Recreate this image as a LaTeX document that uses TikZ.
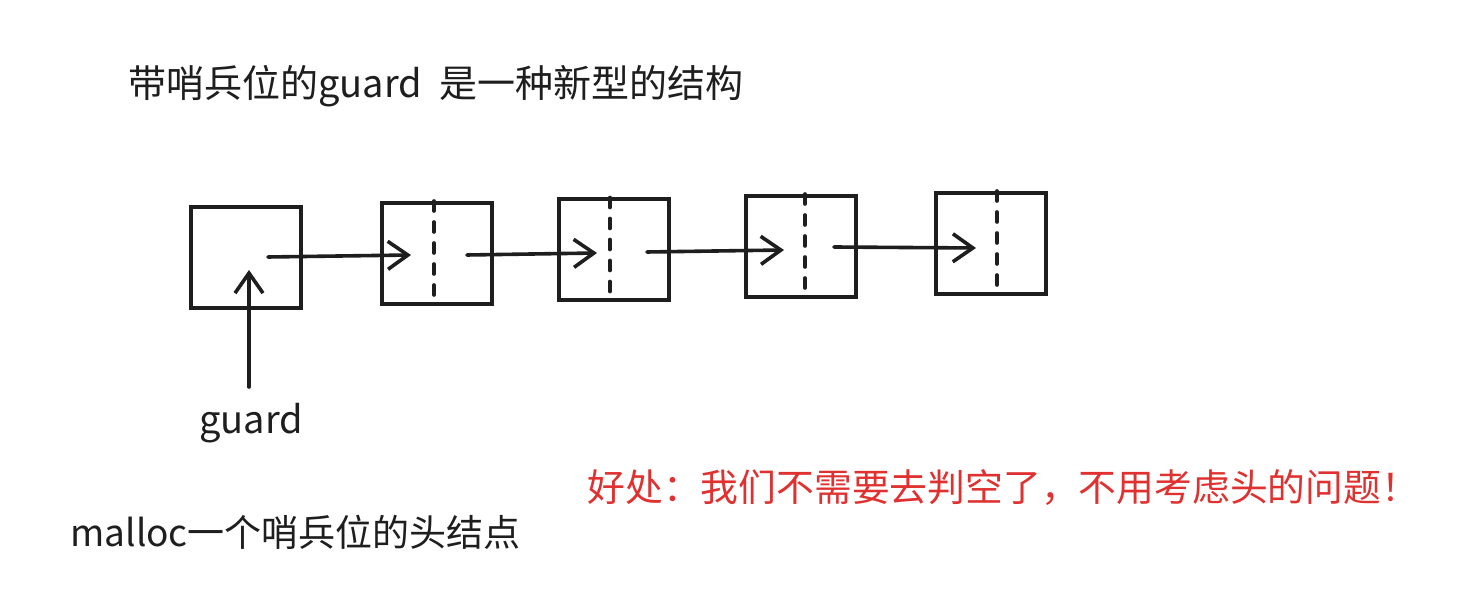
\documentclass[tikz,border=0pt]{standalone}
\usepackage{fontspec}
\setmainfont{Noto Sans CJK SC}
\usetikzlibrary{arrows.meta}
\definecolor{ink}{HTML}{1E1E1E}
\definecolor{redtxt}{HTML}{E03131}
\begin{document}
\begin{tikzpicture}[x=0.5pt,y=-0.5pt,
  nodebox/.style={draw=ink,line width=2pt,minimum width=55pt,minimum height=50.5pt,inner sep=0pt},
  link/.style={draw=ink,line width=1.8pt,line cap=round,-{Straight Barb[length=10pt,width=14pt,line width=1.8pt]}},
  sepline/.style={draw=ink,line width=1.8pt,line cap=round,dash pattern=on 5pt off 5.5pt},
  txt/.style={inner sep=0pt,text=ink}]
\fill[white] (0,0) rectangle (1473,603);
\useasboundingbox (0,0) rectangle (1473,603);

\node[txt,anchor=west,font=\fontsize{19pt}{23pt}\selectfont] (title) at (128,86) {带哨兵位的guard\hspace{0.45em}是一种新型的结构};

\node[nodebox] (b1) at (246,257.5) {};
\node[nodebox] (b2) at (436.5,253.5) {};
\node[nodebox] (b3) at (613.5,250) {};
\node[nodebox] (b4) at (800.5,246.5) {};
\node[nodebox] (b5) at (990.5,243.5) {};

\draw[sepline] (b2.north -| 434,0) -- (434,298);
\draw[sepline] (b3.north -| 610,0) -- (610,295);
\draw[sepline] (b4.north -| 805,0) -- (805,291);
\draw[sepline] (b5.north -| 997,0) -- (997,288);

\coordinate (s1) at (268,257);
\coordinate (e1) at (411,255);
\coordinate (s2) at (467,255);
\coordinate (e2) at (597,253);
\coordinate (s3) at (647,252);
\coordinate (e3) at (784,250);
\coordinate (s4) at (834,247);
\coordinate (e4) at (976,248);
\draw[link] (s1) -- (e1);
\draw[link] (s2) -- (e2);
\draw[link] (s3) -- (e3);
\draw[link] (s4) -- (e4);

\node[txt,font=\fontsize{19pt}{23pt}\selectfont] (guard) at (251,423) {guard};
\coordinate (gs) at (249,387);
\coordinate (ge) at (249,270);
\draw[link] (gs) -- (ge);

\node[txt,anchor=west,font=\fontsize{18.5pt}{22pt}\selectfont] (malloc) at (70,532) {malloc一个哨兵位的头结点};

\node[txt,anchor=west,text=redtxt,font=\fontsize{18.9pt}{22pt}\selectfont] (benefit) at (587,488) {好处：我们不需要去判空了，不用考虑头的问题！};
\end{tikzpicture}
\end{document}
